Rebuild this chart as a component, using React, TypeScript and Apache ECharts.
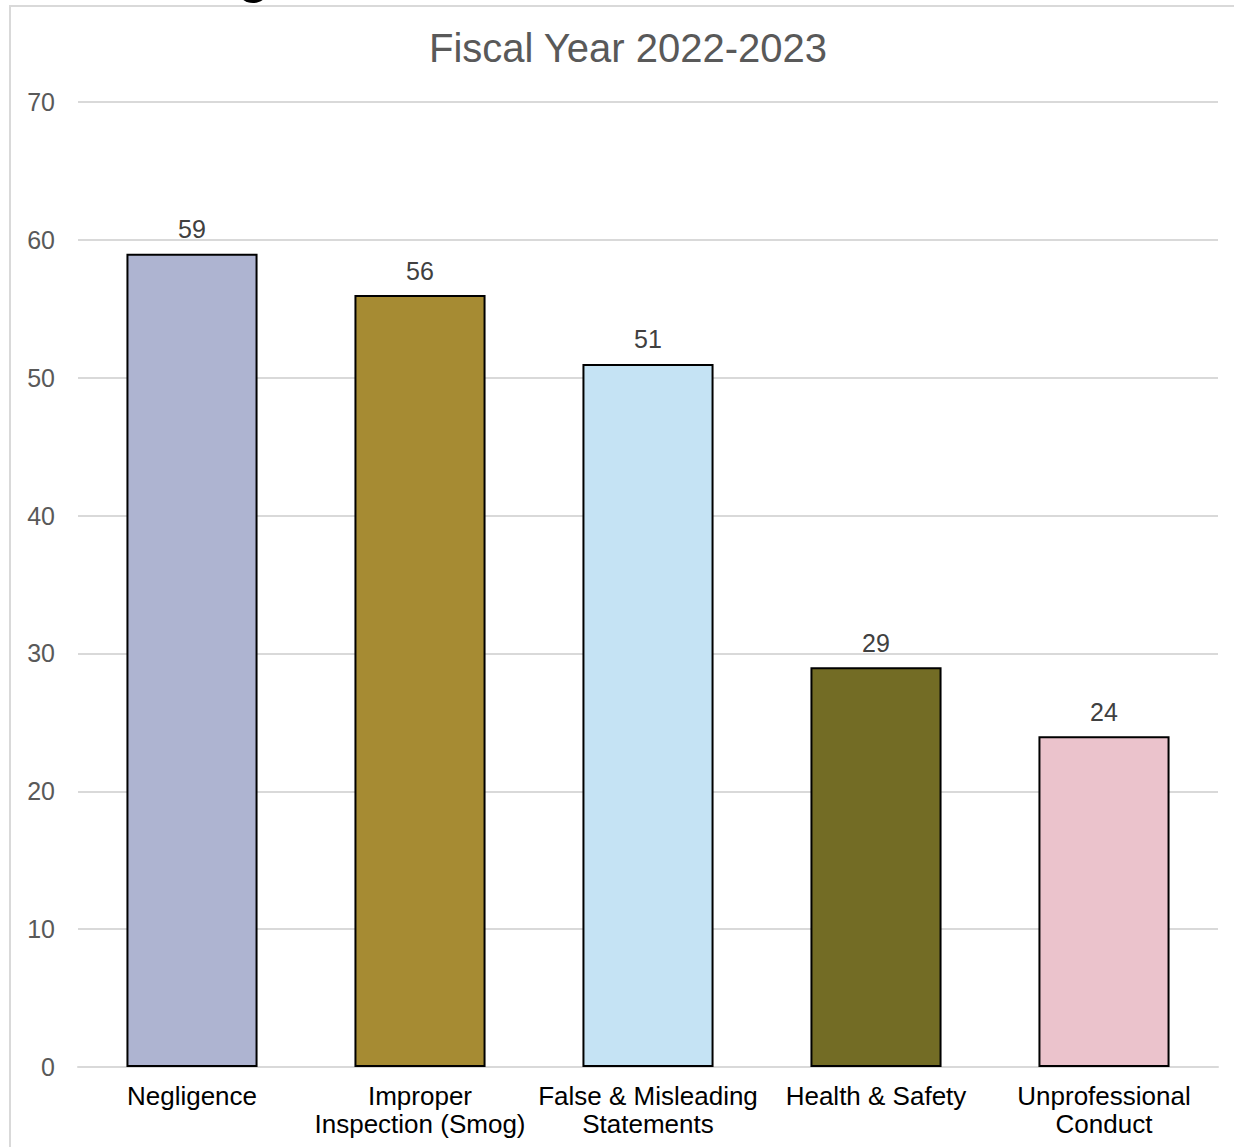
import React, { useEffect, useRef } from "react";
import * as echarts from "echarts";

const categories = [
  "Negligence",
  "Improper\nInspection (Smog)",
  "False & Misleading\nStatements",
  "Health & Safety",
  "Unprofessional\nConduct",
];
const values = [59, 56, 51, 29, 24];
const barColors = ["#AEB4D1", "#A68B33", "#C5E3F4", "#736C25", "#EBC3CC"];
const titleText = "Fiscal Year 2022-2023";

const FONT = "'Liberation Sans', Arial, sans-serif";

export default function App() {
  const ref = useRef<HTMLDivElement>(null);
  useEffect(() => {
    if (!ref.current) return;
    const chart = echarts.init(ref.current, undefined, { renderer: "svg" });
    chart.setOption({
      animation: false,
      backgroundColor: "#ffffff",
      textStyle: { fontFamily: FONT },
      graphic: [
        {
          type: "rect",
          shape: { x: 10, y: 6, width: 1400, height: 1400 },
          style: { fill: "none", stroke: "#d9d9d9", lineWidth: 2 },
          silent: true,
        },
        {
          type: "ellipse",
          shape: { cx: 253, cy: -8, rx: 14, ry: 11 },
          style: { fill: "#000000" },
          silent: true,
        },
        {
          type: "text",
          x: 628,
          y: 48,
          style: {
            text: titleText,
            fontSize: 40,
            fontFamily: FONT,
            fill: "#595959",
            textAlign: "center",
            textVerticalAlign: "middle",
          },
        },
      ],
      grid: { left: 78, right: 16, top: 102, bottom: 80, containLabel: false },
      xAxis: {
        type: "category",
        data: categories,
        axisLine: { show: true, lineStyle: { color: "#d9d9d9", width: 2 } },
        axisTick: { show: false },
        axisLabel: {
          interval: 0,
          fontSize: 26,
          color: "#000000",
          lineHeight: 28,
          margin: 15,
          fontFamily: FONT,
        },
      },
      yAxis: {
        type: "value",
        min: 0,
        max: 70,
        interval: 10,
        axisLine: { show: false },
        axisTick: { show: false },
        axisLabel: { fontSize: 25, color: "#595959", margin: 23, fontFamily: FONT },
        splitLine: { lineStyle: { color: "#d9d9d9", width: 2 } },
      },
      series: [
        {
          type: "bar",
          data: values.map((v, i) => ({
            value: v,
            itemStyle: { color: barColors[i] },
          })),
          barWidth: "57.5%",
          itemStyle: { borderColor: "#000000", borderWidth: 2 },
          label: {
            show: true,
            position: "top",
            distance: 12,
            fontSize: 25,
            color: "#404040",
            fontFamily: FONT,
          },
        },
      ],
    });
    return () => chart.dispose();
  }, []);
  return (
    <div
      ref={ref}
      style={{ position: "fixed", left: 0, top: 0, width: 1234, height: 1147 }}
    />
  );
}
